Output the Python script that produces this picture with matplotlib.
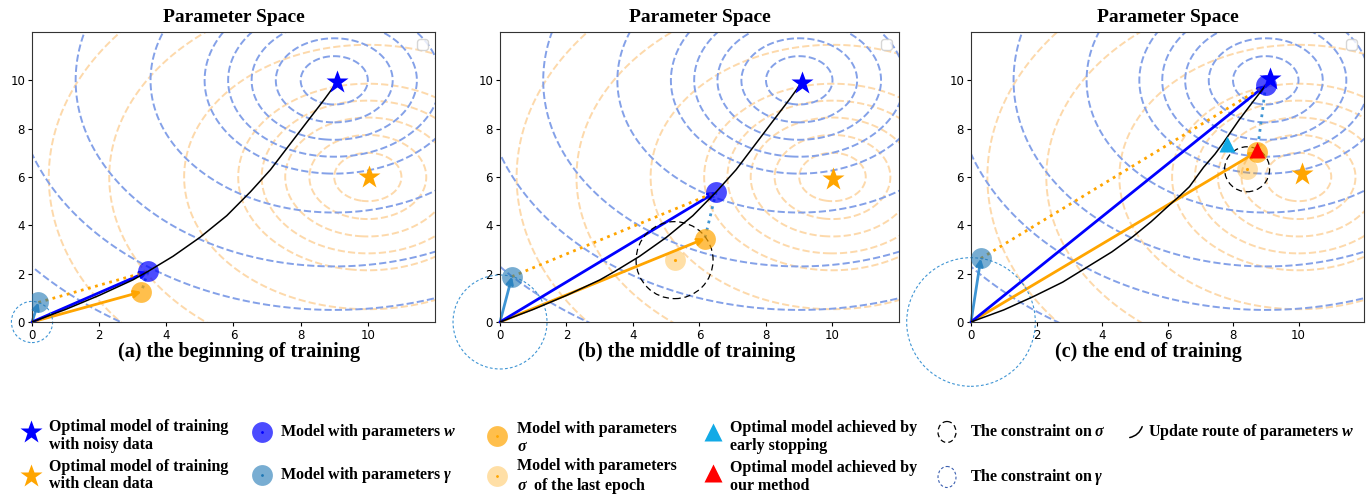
import numpy as np
import matplotlib.pyplot as plt
from matplotlib import patches, transforms

plt.rcParams['font.serif'] = ['Liberation Serif', 'DejaVu Serif']
plt.rcParams['mathtext.fontset'] = 'custom'
plt.rcParams['mathtext.rm'] = 'serif:bold'
plt.rcParams['mathtext.it'] = 'serif:italic:bold'
plt.rcParams['mathtext.bf'] = 'serif:bold'

# ---- data ----------------------------------------------------------------
contour_radii = [1.0, 1.74, 2.46, 3.16, 3.86, 5.47, 7.7, 9.5, 11.85]
noisy_centre = (9.0, 10.0)
clean_centre = (10.0, 6.0)

captions = ["(a) the beginning of training",
            "(b) the middle of training",
            "(c) the end of training"]

noisy_star_x = [9.09, 9.07, 9.14]
noisy_star_y = [9.95, 9.88, 10.05]
clean_star_x = [10.03, 10.02, 10.12]
clean_star_y = [5.98, 5.93, 6.12]

w_x = [3.45, 6.50, 9.00]
w_y = [2.09, 5.38, 9.80]
sigma_x = [3.26, 6.16, 8.74]
sigma_y = [1.25, 3.45, 7.05]
gamma_x = [0.19, 0.36, 0.30]
gamma_y = [0.81, 1.88, 2.63]
last_x = [None, 5.25, 8.43]
last_y = [None, 2.56, 6.32]

early_stop = (7.82, 7.36)
ours = (8.74, 7.12)

route_ab_x = [0, 1.0, 2.0, 3.0, 3.45, 4.2, 5.0, 5.8, 6.5, 7.1, 7.65, 8.2, 8.7, 9.08]
route_ab_y = [0, 0.52, 1.1, 1.74, 2.09, 2.72, 3.5, 4.4, 5.38, 6.3, 7.3, 8.3, 9.2, 9.92]
route_c_x = [0, 1.0, 1.9, 2.8, 3.52, 4.3, 4.94, 5.5, 5.96, 6.4, 6.67, 7.1, 7.45, 7.7, 8.19, 8.6, 8.85, 9.0]
route_c_y = [0, 0.5, 1.05, 1.65, 2.25, 2.9, 3.53, 4.15, 4.72, 5.25, 5.6, 6.4, 6.95, 7.41, 8.37, 9.1, 9.54, 9.8]
routes_x = [route_ab_x, route_ab_x, route_c_x]
routes_y = [route_ab_y, route_ab_y, route_c_y]

# ---- styles ----------------------------------------------------------------
C_W = 'blue'
C_SIG = 'orange'
C_GAM = '#3f95d4'
C_GAMDOT = '#1f77b4'
C_CBLUE = '#84a1e8'
C_CORANGE = '#fdd9ab'
C_EARLY = '#12aae6'
SERIF = 'serif'

W, H = 1372, 497
fig = plt.figure(figsize=(W / 100, H / 100), dpi=100)

# overlay in pixel coordinates for captions and the legend block
lax = fig.add_axes([0, 0, 1, 1])
lax.set_xlim(0, W)
lax.set_ylim(H, 0)
lax.axis('off')

panel_px = [(32, 435), (500, 899), (971, 1364)]
top_px, bottom_px = 32, 322
caption_cx = [239, 687, 1148]
sigma_constraint_px = [None, 38.5, 22.5]


def pixel_circle(ax, centre, r_px, **kw):
    t = fig.dpi_scale_trans + transforms.ScaledTranslation(centre[0], centre[1], ax.transData)
    c = patches.Circle((0, 0), r_px / fig.dpi, transform=t, fill=False, **kw)
    ax.add_patch(c)


gx, gy = np.meshgrid(np.linspace(-2, 14, 500), np.linspace(-2, 14, 500))
zn = np.hypot(gx - noisy_centre[0], gy - noisy_centre[1])
zc = np.hypot(gx - clean_centre[0], gy - clean_centre[1])

for i, (l, r) in enumerate(panel_px):
    ax = fig.add_axes([l / W, 1 - bottom_px / H, (r - l) / W, (bottom_px - top_px) / H])
    ax.set_xlim(0, 12)
    ax.set_ylim(0, 12)
    ax.set_xticks(range(0, 11, 2))
    ax.set_yticks(range(0, 11, 2))
    ax.tick_params(labelsize=8.5, length=3, pad=2)
    for s in ax.spines.values():
        s.set_color('#333333')
    ax.set_title('Parameter Space', fontsize=14, fontweight='bold', family=SERIF, pad=7)

    ax.contour(gx, gy, zc, levels=contour_radii, colors=C_CORANGE, linestyles='--', linewidths=1.4, zorder=1)
    ax.contour(gx, gy, zn, levels=contour_radii, colors=C_CBLUE, linestyles='--', linewidths=1.4, zorder=1)

    # vectors from the origin
    for px, py, c in [(gamma_x[i], gamma_y[i], C_GAM), (sigma_x[i], sigma_y[i], C_SIG), (w_x[i], w_y[i], C_W)]:
        ax.annotate('', xy=(px, py), xytext=(0, 0),
                    arrowprops=dict(arrowstyle='->', color=c, lw=2, shrinkA=0, shrinkB=0), zorder=2)
    ax.plot([gamma_x[i], w_x[i]], [gamma_y[i], w_y[i]], ':', color=C_SIG, lw=2, zorder=2)
    ax.plot([w_x[i], sigma_x[i]], [w_y[i], sigma_y[i]], ':', color=C_GAM, lw=2, zorder=2)

    ax.plot(routes_x[i], routes_y[i], color='black', lw=1.1, zorder=4)

    # constraint circles (fixed size on screen)
    o = ax.transData.transform((0, 0))
    g = ax.transData.transform((gamma_x[i], gamma_y[i]))
    pixel_circle(ax, (0, 0), np.hypot(*(g - o)), ls=(0, (2.5, 2)), lw=0.8, color=C_GAM, clip_on=False, zorder=2)
    if last_x[i] is not None:
        pixel_circle(ax, (last_x[i], last_y[i]), sigma_constraint_px[i], ls=(0, (5, 3)), lw=0.9,
                     color='black', zorder=2)
        ax.plot(last_x[i], last_y[i], 'o', ms=15, color=C_SIG, alpha=0.35, mec='none', zorder=3)
        ax.plot(last_x[i], last_y[i], '.', ms=2.5, color=C_SIG, zorder=3)

    ax.plot(gamma_x[i], gamma_y[i], 'o', ms=15, color=C_GAMDOT, alpha=0.6, mec='none', zorder=3)
    ax.plot(sigma_x[i], sigma_y[i], 'o', ms=15, color=C_SIG, alpha=0.7, mec='none', zorder=3)
    ax.plot(w_x[i], w_y[i], 'o', ms=15, color=C_W, alpha=0.7, mec='none', zorder=3)

    if i == 2:
        ax.plot(*early_stop, '^', ms=12, color=C_EARLY, mec='none', zorder=5)
        ax.plot(*ours, '^', ms=12, color='red', mec='none', zorder=5)

    ax.plot(noisy_star_x[i], noisy_star_y[i], '*', ms=17, color=C_W, mec='none', zorder=6)
    ax.plot(clean_star_x[i], clean_star_y[i], '*', ms=17, color=C_SIG, mec='none', zorder=6)

    ax.legend(handles=[], loc='upper right')

    lax.text(caption_cx[i], 352, captions[i], ha='center', va='center', fontsize=14.5,
             fontweight='bold', family=SERIF)

# ---- legend block ------------------------------------------------------------
txt = dict(fontsize=11.5, fontweight='bold', family=SERIF, va='center', ha='left', linespacing=1.15)

lax.plot(31, 432, '*', ms=17, color=C_W, mec='none')
lax.text(49, 436, 'Optimal model of training\nwith noisy data', **txt)
lax.plot(31, 476, '*', ms=17, color=C_SIG, mec='none')
lax.text(49, 475.5, 'Optimal model of training\nwith clean data', **txt)

lax.plot(262, 432, 'o', ms=15, color=C_W, alpha=0.7, mec='none')
lax.plot(262, 432, '.', ms=2, color=C_W)
lax.text(280, 432, 'Model with parameters $w$', **txt)
lax.plot(262, 475, 'o', ms=15, color=C_GAMDOT, alpha=0.6, mec='none')
lax.plot(262, 475, '.', ms=2, color=C_GAMDOT)
lax.text(280, 475, r'Model with parameters $\gamma$', **txt)

lax.plot(497, 436, 'o', ms=15, color=C_SIG, alpha=0.7, mec='none')
lax.plot(497, 436, '.', ms=2, color=C_SIG)
lax.text(517, 438, 'Model with parameters\n' + r'$\sigma$', **txt)
lax.plot(497, 476, 'o', ms=15, color=C_SIG, alpha=0.35, mec='none')
lax.plot(497, 476, '.', ms=2, color=C_SIG)
lax.text(517, 477, 'Model with parameters\n' + r'$\sigma$  of the last epoch', **txt)

lax.plot(713, 432, '^', ms=13, color=C_EARLY, mec='none')
lax.text(730, 437, 'Optimal model achieved by\nearly stopping', **txt)
lax.plot(713, 473, '^', ms=13, color='red', mec='none')
lax.text(730, 477, 'Optimal model achieved by\nour method', **txt)

lax.add_patch(patches.Ellipse((947, 432), 18, 21, fill=False, ls=(0, (4, 2.5)), lw=0.9, color='black'))
lax.text(970, 432, r'The constraint on $\sigma$', **txt)
lax.add_patch(patches.Ellipse((947, 477), 18, 21, fill=False, ls=(0, (2.5, 2)), lw=0.8, color='#3b5fb0'))
lax.text(970, 477, r'The constraint on $\gamma$', **txt)

lax.add_patch(patches.FancyArrowPatch((1127, 438), (1143, 424), arrowstyle='-',
                                      connectionstyle='arc3,rad=0.35', color='black', lw=1.1))
lax.text(1148, 432, 'Update route of parameters $w$', **txt)

fig.savefig('out.png', dpi=100)
